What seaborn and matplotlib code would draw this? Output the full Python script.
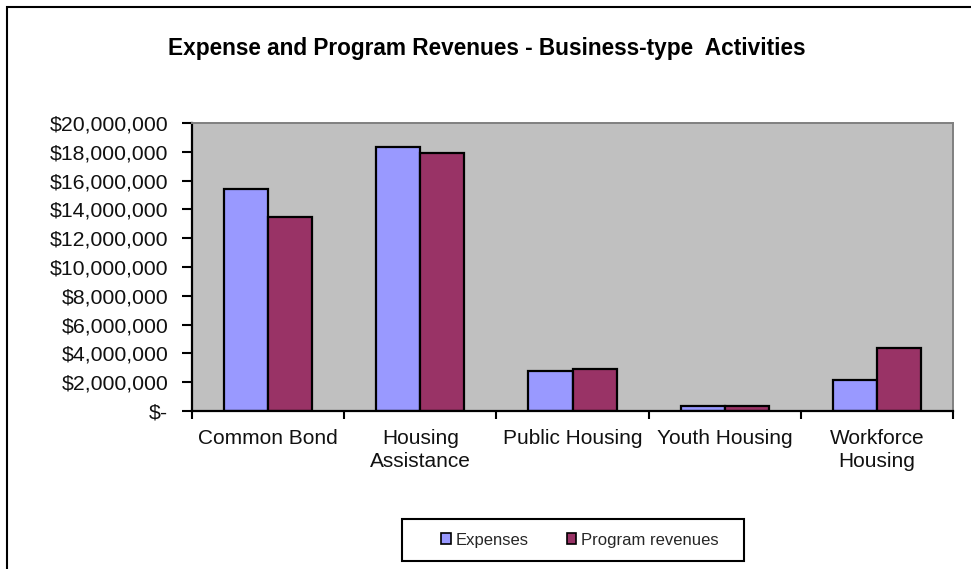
import matplotlib
matplotlib.use("Agg")
import matplotlib.pyplot as plt
import matplotlib.ticker as mticker
from matplotlib.patches import Rectangle
import seaborn as sns
import pandas as pd

# Business-type activities, annual totals in dollars
categories = ["Common Bond", "Housing\nAssistance", "Public Housing", "Youth Housing", "Workforce\nHousing"]
expenses = [15_400_000, 18_350_000, 2_780_000, 320_000, 2_180_000]
program_revenues = [13_480_000, 17_930_000, 2_940_000, 370_000, 4_400_000]
series_names = ["Expenses", "Program revenues"]
y_ticks = list(range(0, 20_000_001, 2_000_000))

df = pd.DataFrame({
    "category": categories * 2,
    "series": [series_names[0]] * len(categories) + [series_names[1]] * len(categories),
    "value": expenses + program_revenues,
})

sns.set_theme(style="white")
plt.rcParams["font.family"] = ["Liberation Sans", "DejaVu Sans"]

W, H = 971, 569
fig = plt.figure(figsize=(W / 100, H / 100), dpi=100)
fig.patch.set_facecolor("white")

left, right, top, bottom = 192, 953, 123, 411
ax = fig.add_axes([left / W, 1 - bottom / H, (right - left) / W, (bottom - top) / H])
ax.set_facecolor("#C0C0C0")

palette = {"Expenses": "#9999FF", "Program revenues": "#993366"}
sns.barplot(data=df, x="category", y="value", hue="series", order=categories,
            hue_order=series_names, palette=palette, width=0.58, gap=0,
            edgecolor="black", linewidth=1.6, saturation=1, errorbar=None,
            legend=False, ax=ax)

ax.set_xlim(-0.5, len(categories) - 0.5)
ax.set_ylim(0, 20_000_000)
ax.set_xlabel("")
ax.set_ylabel("")

def money(v, pos):
    return "$-" if v == 0 else f"${v:,.0f}"

ax.yaxis.set_major_locator(mticker.FixedLocator(y_ticks))
ax.yaxis.set_major_formatter(mticker.FuncFormatter(money))
ax.tick_params(axis="y", which="major", direction="out", length=7, width=1.5,
               color="black", labelsize=15.3, pad=10, left=True)
for t in ax.get_yticklabels():
    t.set_color("#111111")

# Category ticks sit between groups
ax.xaxis.set_minor_locator(mticker.FixedLocator([i - 0.5 for i in range(len(categories) + 1)]))
ax.tick_params(axis="x", which="minor", direction="out", length=6, width=1.5,
               color="black", bottom=True)
ax.tick_params(axis="x", which="major", length=0, labelsize=15, pad=13)
for t in ax.get_xticklabels():
    t.set_linespacing(1.25)
    t.set_color("#111111")

for side in ("left", "bottom"):
    ax.spines[side].set_color("black")
    ax.spines[side].set_linewidth(1.6)
for side in ("top", "right"):
    ax.spines[side].set_color("#808080")
    ax.spines[side].set_linewidth(1.4)
    ax.spines[side].set_visible(True)

fig.text(0.5 * (168 + 806) / W, 1 - 48 / H,
         "Expense and Program Revenues - Business-type  Activities",
         ha="center", va="center", fontsize=16.3, fontweight="bold", color="black")

# Legend entries, with a separate frame box around them
handles = [Rectangle((0, 0), 1, 1, facecolor=palette[s], edgecolor="black", linewidth=1.2)
           for s in series_names]
leg = fig.legend(handles, series_names, loc="center",
                 bbox_to_anchor=(580 / W, 1 - 540 / H), ncol=2, frameon=False,
                 fontsize=12, handlelength=0.55, handleheight=0.6, handletextpad=0.3,
                 columnspacing=2.3, borderpad=0, borderaxespad=0)
fig.add_artist(Rectangle((402 / W, 1 - 561 / H), (744 - 402) / W, (561 - 519) / H,
                         transform=fig.transFigure, facecolor="white",
                         edgecolor="black", linewidth=1.5, zorder=0))

# Chart area frame
fig.add_artist(Rectangle((7 / W, -0.1), 1.2, 1 - 7 / H + 0.1, transform=fig.transFigure,
                         fill=False, edgecolor="black", linewidth=1.5))

fig.savefig("out.png", dpi=100, facecolor="white")
